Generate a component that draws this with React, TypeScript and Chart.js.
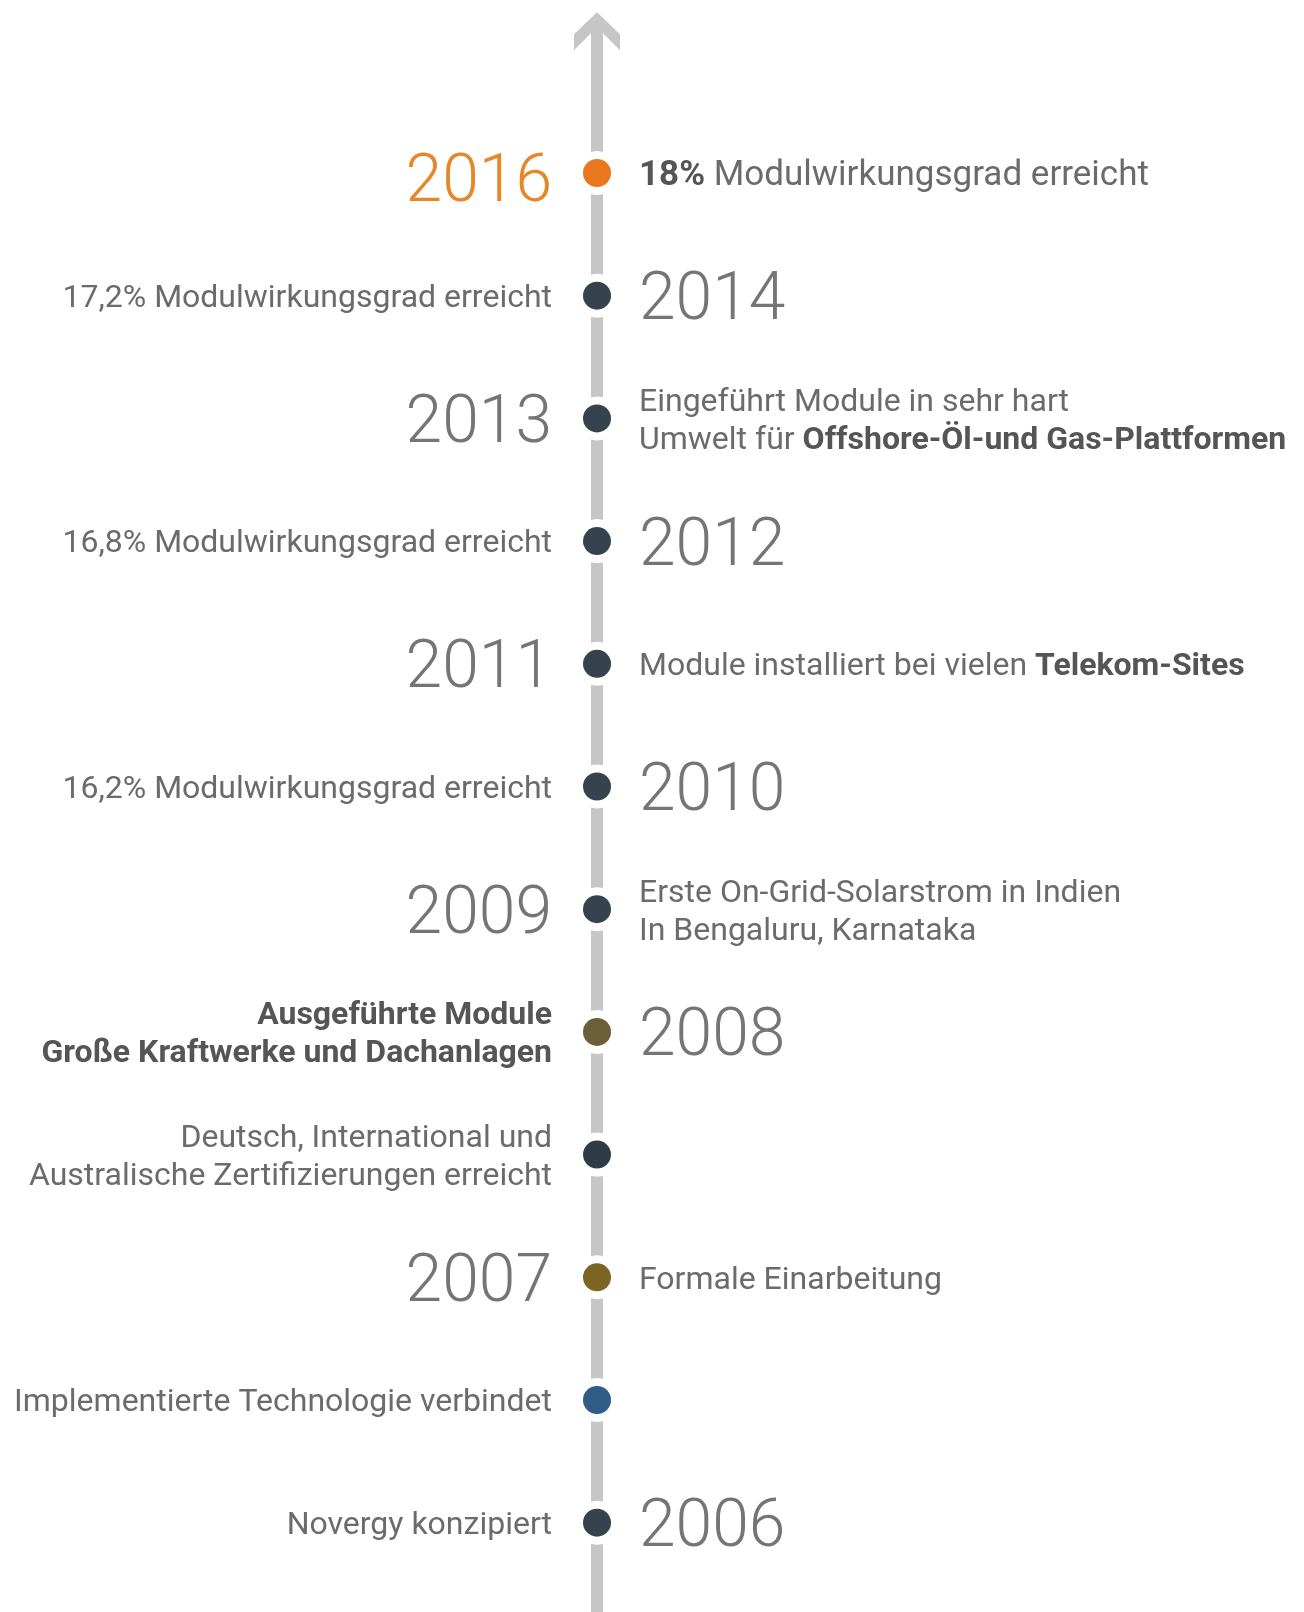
import React, { useEffect, useRef } from "react";
import { Chart, registerables } from "chart.js";

Chart.register(...registerables);

// Timeline positions (top = most recent)
const eventPositions = [11, 10, 9, 8, 7, 6, 5, 4, 3, 2, 1, 0];
const yearLabels = ["2016", "2014", "2013", "2012", "2011", "2010", "2009", "2008", "", "2007", "", "2006"];
const yearSides = ["left", "right", "left", "right", "left", "right", "left", "right", "", "left", "", "right"];
const descSides = ["right", "left", "right", "left", "right", "left", "right", "left", "left", "right", "left", "left"];
const descriptions: string[][] = [
  ["**18%** Modulwirkungsgrad erreicht"],
  ["17,2% Modulwirkungsgrad erreicht"],
  ["Eingeführt Module in sehr hart", "Umwelt für **Offshore-Öl-und Gas-Plattformen**"],
  ["16,8% Modulwirkungsgrad erreicht"],
  ["Module installiert bei vielen **Telekom-Sites**"],
  ["16,2% Modulwirkungsgrad erreicht"],
  ["Erste On-Grid-Solarstrom in Indien", "In Bengaluru, Karnataka"],
  ["**Ausgeführte Module**", "**Große Kraftwerke und Dachanlagen**"],
  ["Deutsch, International und", "Australische Zertifizierungen erreicht"],
  ["Formale Einarbeitung"],
  ["Implementierte Technologie verbindet"],
  ["Novergy konzipiert"],
];
const dotColors = [
  "#e8781e", "#36434e", "#36434e", "#36434e", "#36434e", "#36434e",
  "#36434e", "#6c5f37", "#2f3b45", "#7c6425", "#2f5d86", "#36434e",
];
const yearColors = [
  "#e8862a", "#757575", "#757575", "#757575", "#757575", "#757575",
  "#757575", "#757575", "#757575", "#757575", "#757575", "#757575",
];
const highlightIndex = 0;
const axisTopValue = 12.31;
const arrowHeadBaseValue = 12.0;

const W = 1304;
const H = 1612;

const FONT = "Roboto, 'Noto Sans', sans-serif";
const YEAR_SIZE = 66;
const DESC_SIZE = 32;
const HIGHLIGHT_DESC_SIZE = 35;
const LINE_GAP = 38;

function drawRich(ctx: CanvasRenderingContext2D, text: string, x: number, baseline: number, align: string, size: number) {
  const parts = text.split("**");
  const segs = parts.map((t, i) => ({ t, bold: i % 2 === 1 })).filter((s) => s.t.length > 0);
  const fontFor = (b: boolean) => `${b ? 700 : 400} ${size}px ${FONT}`;
  let total = 0;
  const widths = segs.map((s) => {
    ctx.font = fontFor(s.bold);
    const w = ctx.measureText(s.t).width;
    total += w;
    return w;
  });
  let cx = align === "right" ? x - total : x;
  segs.forEach((s, i) => {
    ctx.font = fontFor(s.bold);
    ctx.fillStyle = s.bold ? "#555555" : "#6b6b6b";
    ctx.textAlign = "left";
    ctx.textBaseline = "alphabetic";
    ctx.fillText(s.t, cx, baseline);
    cx += widths[i];
  });
}

const timelinePlugin = {
  id: "timeline",
  beforeDatasetsDraw(chart: any) {
    const { ctx, scales } = chart;
    const cx = scales.x.getPixelForValue(0);
    const top = scales.y.getPixelForValue(axisTopValue);
    const base = scales.y.getPixelForValue(arrowHeadBaseValue);
    const bottom = chart.height;
    const hw = 6;
    const aw = 23;
    ctx.save();
    ctx.fillStyle = "#c6c6c6";
    ctx.beginPath();
    ctx.moveTo(cx, top);
    ctx.lineTo(cx + aw, top + 22);
    ctx.lineTo(cx + aw, base);
    ctx.lineTo(cx + hw, top + 21);
    ctx.lineTo(cx + hw, bottom);
    ctx.lineTo(cx - hw, bottom);
    ctx.lineTo(cx - hw, top + 21);
    ctx.lineTo(cx - aw, base);
    ctx.lineTo(cx - aw, top + 22);
    ctx.closePath();
    ctx.fill();
    ctx.restore();
  },
  afterDatasetsDraw(chart: any) {
    const { ctx, scales } = chart;
    const cx = scales.x.getPixelForValue(0);
    const leftEdge = cx - 45;
    const rightEdge = cx + 42;
    ctx.save();
    eventPositions.forEach((v, i) => {
      const cy = scales.y.getPixelForValue(v);
      const hl = i === highlightIndex;
      const year = yearLabels[i];
      if (year) {
        ctx.font = `300 ${YEAR_SIZE}px ${FONT}`;
        ctx.fillStyle = yearColors[i];
        ctx.textBaseline = "alphabetic";
        const left = yearSides[i] === "left";
        ctx.textAlign = left ? "right" : "left";
        ctx.fillText(year, left ? leftEdge : rightEdge, cy + YEAR_SIZE * 0.711 / 2 + (hl ? 5 : 0));
      }
      const size = hl ? HIGHLIGHT_DESC_SIZE : DESC_SIZE;
      const lines = descriptions[i];
      const n = lines.length;
      const leftD = descSides[i] === "left";
      lines.forEach((line, k) => {
        const lc = cy + (k - (n - 1) / 2) * LINE_GAP;
        drawRich(ctx, line, leftD ? leftEdge : rightEdge, lc + size * 0.711 / 2, leftD ? "right" : "left", size);
      });
    });
    ctx.restore();
  },
};

export default function App() {
  const ref = useRef<HTMLCanvasElement | null>(null);
  useEffect(() => {
    document.body.style.margin = "0";
    const canvas = ref.current;
    if (!canvas) return;
    const points = eventPositions.map((v) => ({ x: 0, y: v }));
    const chart = new Chart(canvas, {
      type: "scatter",
      data: {
        datasets: [
          {
            label: "dots",
            data: points,
            pointRadius: 14,
            pointHoverRadius: 14,
            pointBackgroundColor: dotColors,
            pointBorderWidth: 0,
            borderWidth: 0,
            order: 1,
          },
          {
            label: "gaps",
            data: points,
            pointRadius: 22,
            pointHoverRadius: 22,
            pointBackgroundColor: "#ffffff",
            pointBorderWidth: 0,
            borderWidth: 0,
            order: 2,
          },
        ],
      },
      options: {
        animation: false,
        responsive: false,
        events: [],
        layout: { autoPadding: false, padding: { left: 0, right: 110, top: 0, bottom: 0 } },
        scales: {
          x: { type: "linear", min: -1, max: 1, display: false },
          y: { type: "linear", min: -0.728, max: 12.41, display: false },
        },
        plugins: { legend: { display: false }, tooltip: { enabled: false } },
      },
      plugins: [timelinePlugin],
    });
    return () => chart.destroy();
  }, []);
  return (
    <div style={{ position: "absolute", left: 0, top: 0, width: W, height: H, background: "#ffffff" }}>
      <canvas ref={ref} width={W} height={H} style={{ display: "block", width: W, height: H }} />
    </div>
  );
}
